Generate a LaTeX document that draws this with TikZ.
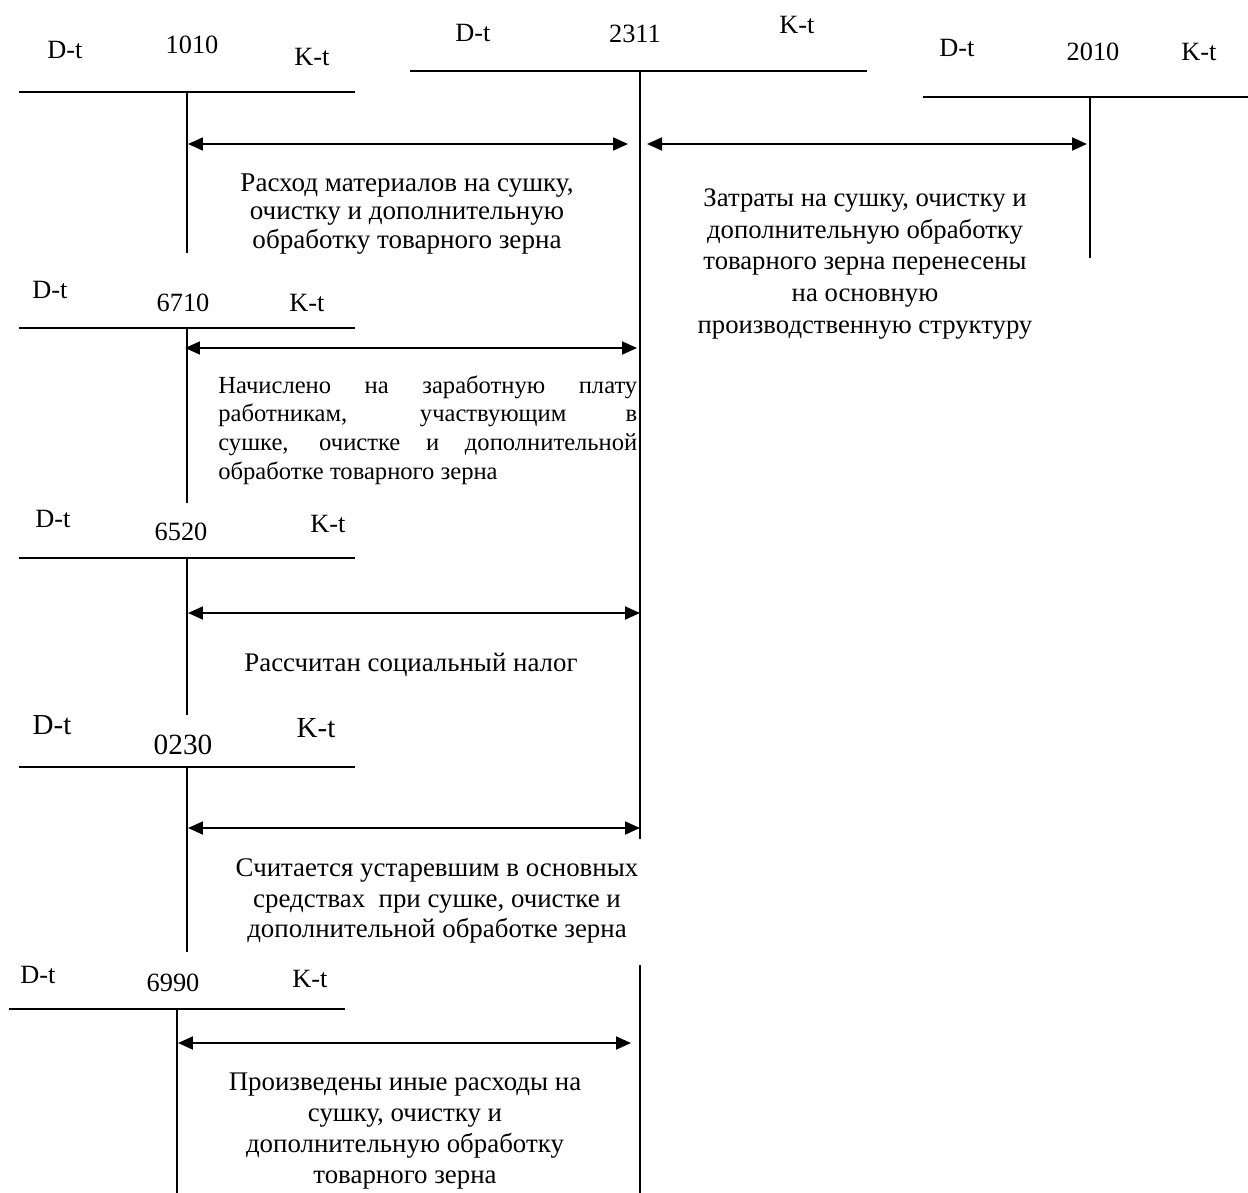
\documentclass[tikz,border=0pt]{standalone}
\usepackage{fontspec}
\setmainfont{Liberation Serif}
\usetikzlibrary{arrows.meta}
\tikzset{
  acc/.style={line width=0.7pt},
  flow/.style={line width=1.1pt,
    {Triangle[length=0.3cm,width=0.26cm]}-{Triangle[length=0.3cm,width=0.26cm]}},
  lbl/.style={font=\fontsize{#1}{#1}\selectfont, inner sep=0pt},
  lbl/.default=15,
  txt/.style={font=\fontsize{15.3}{#1}\selectfont, align=center, inner sep=0pt},
  txt/.default=16.2,
}
\begin{document}
\begin{tikzpicture}[x=0.02cm, y=-0.02cm]
  \useasboundingbox (0,0) rectangle (1248,1193);

  \draw[acc] (19,92) -- (355,92);
  \draw[acc] (187,92) -- (187,253);
  \node[lbl] (d1010) at (65,50) {D-t};
  \node[lbl] (n1010) at (192,45) {1010};
  \node[lbl] (k1010) at (312,57) {K-t};

  \draw[acc] (410,71) -- (867,71);
  \draw[acc] (640,71) -- (640,839);
  \draw[acc] (640,965) -- (640,1193);
  \node[lbl] (d2311) at (473,33) {D-t};
  \node[lbl] (n2311) at (635,34) {2311};
  \node[lbl] (k2311) at (797,25) {K-t};

  \draw[acc] (923,97) -- (1248,97);
  \draw[acc] (1090,97) -- (1090,258);
  \node[lbl] (d2010) at (957,48) {D-t};
  \node[lbl] (n2010) at (1093,52) {2010};
  \node[lbl] (k2010) at (1199,52) {K-t};

  \draw[acc] (19,328) -- (355,328);
  \draw[acc] (187,328) -- (187,503);
  \node[lbl] (d6710) at (50,290) {D-t};
  \node[lbl] (n6710) at (183,303) {6710};
  \node[lbl] (k6710) at (307,303) {K-t};

  \draw[acc] (19,558) -- (355,558);
  \draw[acc] (187,558) -- (187,715);
  \node[lbl] (d6520) at (53,519) {D-t};
  \node[lbl] (n6520) at (181,532) {6520};
  \node[lbl] (k6520) at (328,524) {K-t};

  \draw[acc] (19,767) -- (355,767);
  \draw[acc] (187,767) -- (187,952);
  \node[lbl=16.5] (d0230) at (52,725) {D-t};
  \node[lbl=16.7] (n0230) at (183,745) {0230};
  \node[lbl=16.5] (k0230) at (316,728) {K-t};

  \draw[acc] (9,1009) -- (345,1009);
  \draw[acc] (177,1009) -- (177,1193);
  \node[lbl] (d6990) at (38,975) {D-t};
  \node[lbl] (n6990) at (173,983) {6990};
  \node[lbl] (k6990) at (310,979) {K-t};

  \coordinate (m1a) at (188,144);  \coordinate (m1b) at (628,144);
  \coordinate (m2a) at (647,144);  \coordinate (m2b) at (1087,144);
  \coordinate (m3a) at (185,348);  \coordinate (m3b) at (637,348);
  \coordinate (m4a) at (188,613);  \coordinate (m4b) at (640,613);
  \coordinate (m5a) at (188,828);  \coordinate (m5b) at (640,828);
  \coordinate (m6a) at (178,1043); \coordinate (m6b) at (631,1043);
  \draw[flow] (m1a) -- (m1b);
  \draw[flow] (m2a) -- (m2b);
  \draw[flow] (m3a) -- (m3b);
  \draw[flow] (m4a) -- (m4b);
  \draw[flow] (m5a) -- (m5b);
  \draw[flow] (m6a) -- (m6b);

  \node[txt, font=\fontsize{15.4}{16.2}\selectfont] (t1) at (407,214) {Расход материалов на сушку,\\очистку и дополнительную\\обработку товарного зерна};
  \node[txt=18.1, font=\fontsize{15.2}{18.1}\selectfont] (t2) at (865,264)
    {Затраты на сушку, очистку и\\дополнительную обработку\\товарного зерна перенесены\\на основную\\производственную структуру};
  \node[txt=16.3, font=\fontsize{14}{16.3}\selectfont, align=left, anchor=west] (t3) at (218,430)
    {\makebox[8.38cm][s]{Начислено на заработную плату}\\
     \makebox[8.38cm][s]{работникам, участвующим в}\\
     \makebox[8.38cm][s]{сушке, очистке и дополнительной}\\
     обработке товарного зерна};
  \node[txt] (t4) at (411,665) {Рассчитан социальный налог};
  \node[txt=17.6] (t5) at (437,901) {Считается устаревшим в основных\\средствах\ \ при сушке, очистке и\\дополнительной обработке зерна};
  \node[txt=17.6] (t6) at (405,1131) {Произведены иные расходы на\\сушку, очистку и\\дополнительную обработку\\товарного зерна};
\end{tikzpicture}
\end{document}
